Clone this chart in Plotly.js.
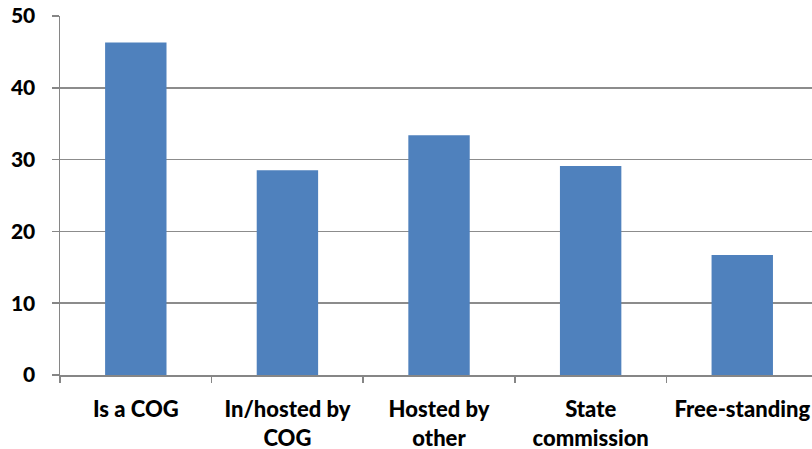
<!DOCTYPE html>
<html>
<head>
<meta charset="utf-8">
<script src="https://cdn.plot.ly/plotly-3.0.1.min.js"></script>
<style>html,body{margin:0;padding:0;background:#fff;}#chart{width:812px;height:449px;}</style>
</head>
<body>
<div id="chart"></div>
<script>
const categories = ["Is a COG", "In/hosted by<br>COG", "Hosted by<br>other", "State<br>commission", "Free-standing"];
const values = [46.3, 28.5, 33.4, 29.1, 16.7];
const yTicks = [0, 10, 20, 30, 40, 50];

const trace = {
  type: "bar",
  x: categories,
  y: values,
  width: 0.405,
  marker: {color: "#4f81bd"},
  hoverinfo: "skip"
};

const layout = {
  width: 812,
  height: 449,
  margin: {l: 60, r: 0, t: 16, b: 74},
  paper_bgcolor: "#ffffff",
  plot_bgcolor: "#ffffff",
  showlegend: false,
  font: {family: "Lato, 'Open Sans', sans-serif", color: "#000000"},
  xaxis: {
    type: "category",
    range: [-0.5, 4.46],
    showgrid: false,
    showline: true,
    linecolor: "#868686",
    linewidth: 1.5,
    ticks: "outside",
    tickson: "boundaries",
    ticklen: 6,
    tickcolor: "#868686",
    tickwidth: 1.5,
    tickfont: {family: "Lato", size: 22, color: "#000", weight: 900},
    tickangle: 0,
    ticklabelstandoff: 14
  },
  yaxis: {
    range: [0, 50],
    tickvals: yTicks,
    ticktext: yTicks.map(String),
    showgrid: true,
    gridcolor: "#8c8c8c",
    gridwidth: 1.5,
    showline: true,
    linecolor: "#868686",
    linewidth: 1.5,
    ticks: "outside",
    ticklen: 7,
    tickcolor: "#868686",
    tickwidth: 1.5,
    zeroline: false,
    tickfont: {family: "Lato", size: 21, color: "#000", weight: 900},
    ticklabelstandoff: 12
  },
  bargap: 0.6
};

Plotly.newPlot("chart", [trace], layout, {displayModeBar: false, staticPlot: true});
</script>
</body>
</html>
